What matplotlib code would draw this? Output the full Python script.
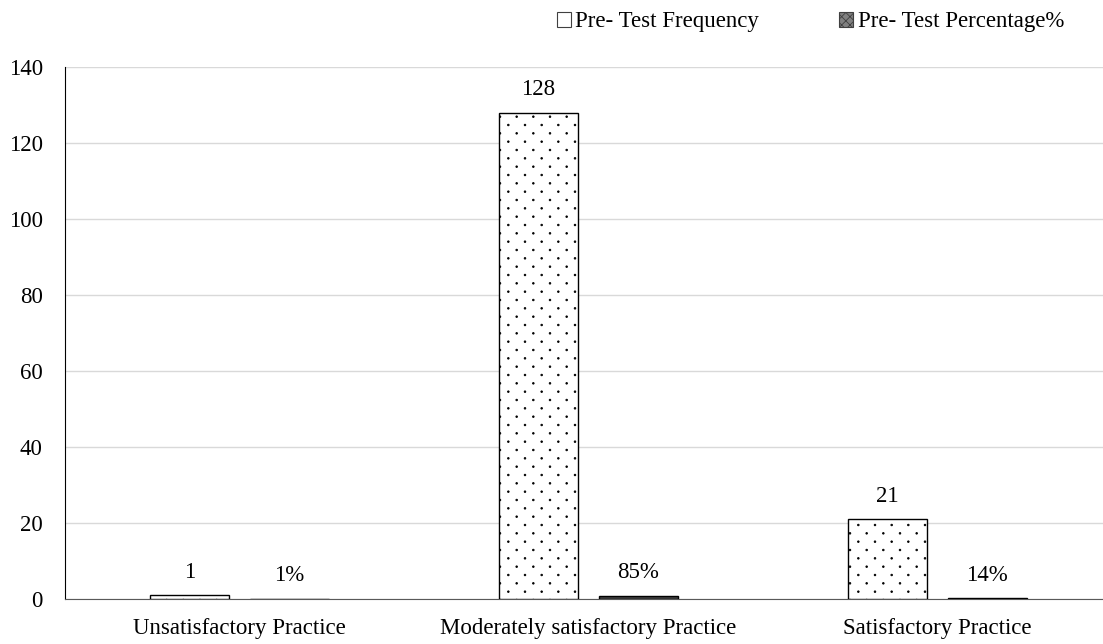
import matplotlib
matplotlib.use("Agg")
import matplotlib.pyplot as plt
import matplotlib.hatch as mhatch
import numpy as np
from matplotlib.patches import Patch
from matplotlib.path import Path

plt.rcParams["font.family"] = ["Liberation Serif", "DejaVu Serif"]
plt.rcParams["hatch.linewidth"] = 0.6

categories = ["Unsatisfactory Practice",
              "Moderately satisfactory Practice",
              "Satisfactory Practice"]
frequency = [1, 128, 21]
percentage = [0.01, 0.85, 0.14]
yticks = [0, 20, 40, 60, 80, 100, 120, 140]


class SparseDots(mhatch.HatchPatternBase):
    # Excel-like "dotted" fill: tiny dots, 6 per inch across, staggered rows
    radius = 0.008

    def __init__(self, hatch, density):
        self.ncol = hatch.count(".") * density
        self.nrow = 2 * self.ncol
        circ = Path.unit_circle()
        self.shape_vertices = circ.vertices * self.radius
        self.shape_codes = circ.codes
        if self.ncol == 0:
            self.num_vertices = 0
        else:
            n_shapes = ((self.nrow // 2 + 1) * (self.ncol + 1)
                        + (self.nrow // 2) * self.ncol)
            self.num_vertices = n_shapes * len(self.shape_vertices)

    def set_vertices_and_codes(self, vertices, codes):
        vparts, cparts = [], []
        dx = 1.0 / self.ncol
        for row in range(self.nrow + 1):
            if row % 2 == 0:
                cols = np.linspace(0, 1, self.ncol + 1)
            else:
                cols = np.linspace(dx / 2, 1 - dx / 2, self.ncol)
            for c in cols:
                vparts.append(self.shape_vertices + [c, row / self.nrow])
                cparts.append(self.shape_codes)
        np.concatenate(vparts, out=vertices)
        np.concatenate(cparts, out=codes)


mhatch._hatch_types = [SparseDots if t is mhatch.SmallFilledCircles else t
                       for t in mhatch._hatch_types]

W, H = 1103, 644
fig = plt.figure(figsize=(W / 100, H / 100), dpi=100)
# plot area (in pixels): left 65, bottom 599, top 67, category step ~349 px
ax = fig.add_axes([65 / W, (H - 599) / H, 1047 / W, (599 - 67) / H])

x = np.arange(len(categories)) + 0.5
width = 0.226
off = 0.143
fs = 16.5

b1 = ax.bar(x - off, frequency, width, facecolor="white", edgecolor="black",
            linewidth=1.0, hatch=".", zorder=3)
b2 = ax.bar(x + off, percentage, width, facecolor="#404040",
            edgecolor="black", linewidth=1.0, zorder=3)

for rect, v in zip(b1, frequency):
    ax.annotate(str(v), (rect.get_x() + rect.get_width() / 2, v),
                xytext=(0, 9), textcoords="offset points",
                ha="center", va="bottom", fontsize=fs)
for rect, v in zip(b2, percentage):
    ax.annotate(f"{v * 100:.0f}%", (rect.get_x() + rect.get_width() / 2, v),
                xytext=(0, 9), textcoords="offset points",
                ha="center", va="bottom", fontsize=fs)

ax.set_xlim(0, 3)
ax.set_ylim(0, 140)
ax.set_yticks(yticks)
ax.set_xticks(x)
ax.set_xticklabels(categories)
ax.tick_params(axis="both", length=0, labelsize=fs)
ax.tick_params(axis="y", pad=16)
ax.tick_params(axis="x", pad=14)
ax.yaxis.grid(True, color="#d9d9d9", linewidth=1.0, zorder=0)
ax.set_axisbelow(True)
for s in ["top", "right"]:
    ax.spines[s].set_visible(False)
ax.spines["left"].set_color("black")
ax.spines["bottom"].set_color("#595959")

handles = [
    Patch(facecolor="white", edgecolor="#404040", linewidth=0.8,
          label="Pre- Test Frequency"),
    Patch(facecolor="#808080", edgecolor="#404040", linewidth=0.8,
          hatch="xxxx", label="Pre- Test Percentage%"),
]
fig.legend(handles=handles, loc="center right", ncol=2,
           bbox_to_anchor=(1064 / W, 1 - 22 / H), frameon=False,
           fontsize=fs, handlelength=0.6, handleheight=0.6,
           handletextpad=0.2, columnspacing=3.5, borderaxespad=0,
           borderpad=0)

fig.savefig("out.png", dpi=100)
